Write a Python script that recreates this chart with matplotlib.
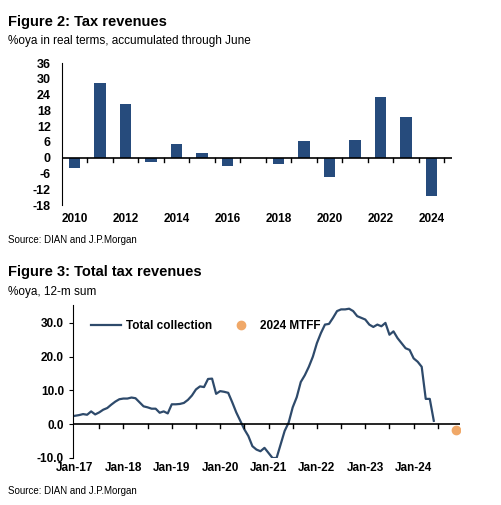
import matplotlib
matplotlib.use("Agg")
import matplotlib.pyplot as plt
import numpy as np

plt.rcParams['font.family'] = ['Liberation Sans', 'DejaVu Sans']
plt.rcParams['axes.unicode_minus'] = False

# Figure 2 data
years = list(range(2010, 2025))
tax_rev = [-4, 28.5, 20.5, -1.5, 5.3, 1.8, -3.2, 0, -2.5, 6.2, -7.5, 6.8, 23, 15.3, -14.5]

# Figure 3 data: monthly, Jan-17 .. Jun-24
total_collection = [
    2.5, 2.7, 3.0, 2.8, 3.8, 2.9, 3.5, 4.3, 4.8, 5.8, 6.7, 7.4,
    7.6, 7.6, 7.9, 7.7, 6.5, 5.3, 5.0, 4.6, 4.6, 3.4, 3.8, 3.2,
    5.9, 5.9, 6.0, 6.3, 7.2, 8.5, 10.3, 11.2, 11.0, 13.4, 13.5, 9.0,
    9.8, 9.6, 9.3, 6.5, 3.5, 1.0, -1.5, -3.5, -6.5, -7.5, -8.0, -7.0,
    -8.5, -10.0, -10.0, -6.0, -2.0, 0.5, 5.0, 8.0, 12.5, 14.5, 17.0, 20.0,
    24.0, 27.0, 29.5, 29.7, 31.5, 33.5, 34.0, 34.0, 34.2, 33.5, 32.0, 31.5,
    31.0, 29.5, 28.8, 29.5, 29.0, 30.0, 26.5, 27.5, 25.5, 24.0, 22.5, 22.0,
    19.5, 18.5, 17.0, 7.5, 7.5, 1.0,
]
mtff_month = 94.5
mtff_value = -1.8
year_labels = ['Jan-17', 'Jan-18', 'Jan-19', 'Jan-20', 'Jan-21', 'Jan-22', 'Jan-23', 'Jan-24']

W, H = 501, 505
fig = plt.figure(figsize=(W / 100, H / 100), dpi=100)

def box(l, t, r, b):
    return [l / W, 1 - b / H, (r - l) / W, (b - t) / H]

# ---- Figure 2 ----
fig.text(8 / W, 1 - 22 / H, "Figure 2: Tax revenues", fontsize=10.5, fontweight='bold', va='center')
fig.text(8 / W, 1 - 41 / H, "%oya in real terms, accumulated through June", fontsize=8.5, va='center')
ax1 = fig.add_axes(box(62, 63, 452, 205))
ax1.bar(years, tax_rev, width=0.45, color='#264B7C')
ax1.set_xlim(2009.5, 2024.8)
ax1.set_ylim(-18, 36)
ax1.set_yticks(range(-18, 37, 6))
for s in ['top', 'right', 'bottom']:
    ax1.spines[s].set_visible(False)
ax1.axhline(0, color='black', lw=1.2)
ax1.set_xticks([])
for y in np.arange(2010.5, 2024.6, 1):
    ax1.plot([y, y], [0, -1.5], color='black', lw=1)
for y in range(2010, 2025, 2):
    ax1.text(y, -21, str(y), ha='center', va='top', fontsize=8.5, fontweight='bold')
ax1.tick_params(axis='y', length=0, labelsize=9, pad=8)
for lb in ax1.get_yticklabels():
    lb.set_fontweight('bold')
fig.text(8 / W, 1 - 240 / H, "Source: DIAN and J.P.Morgan", fontsize=7, va='center')

# ---- Figure 3 ----
fig.text(8 / W, 1 - 272 / H, "Figure 3: Total tax revenues", fontsize=10.5, fontweight='bold', va='center')
fig.text(8 / W, 1 - 292 / H, "%oya, 12-m sum", fontsize=8.5, va='center')
ax2 = fig.add_axes(box(73, 305, 460, 458))
months = np.arange(len(total_collection))
ax2.plot(months, total_collection, color='#2E4A6B', lw=1.6, label='Total collection')
ax2.plot([mtff_month], [mtff_value], 'o', color='#F0A868', ms=6, label='2024 MTFF', linestyle='none')
ax2.set_xlim(-0.5, 95.5)
ax2.set_ylim(-10, 35.3)
ax2.set_yticks([-10, 0, 10, 20, 30])
ax2.set_yticklabels(['-10.0', '0.0', '10.0', '20.0', '30.0'])
for s in ['top', 'right', 'bottom']:
    ax2.spines[s].set_visible(False)
ax2.axhline(0, color='black', lw=1.2)
ax2.set_xticks([])
for m in range(6, 96, 6):
    ax2.plot([m, m], [0, -1.0], color='black', lw=1)
for i, lab in enumerate(year_labels):
    ax2.text(i * 12, -11.2, lab, ha='center', va='top', fontsize=8.5, fontweight='bold')
ax2.tick_params(axis='y', length=3, labelsize=8.5)
for lb in ax2.get_yticklabels():
    lb.set_fontweight('bold')
leg = ax2.legend(loc='upper left', bbox_to_anchor=(0.02, 0.97), ncol=2, frameon=False,
                 fontsize=8.5, handlelength=2.5, handletextpad=0.4, columnspacing=1.2)
for t in leg.get_texts():
    t.set_fontweight('bold')
fig.text(8 / W, 1 - 491 / H, "Source: DIAN and J.P.Morgan", fontsize=7, va='center')

fig.savefig("out.png", dpi=100)
